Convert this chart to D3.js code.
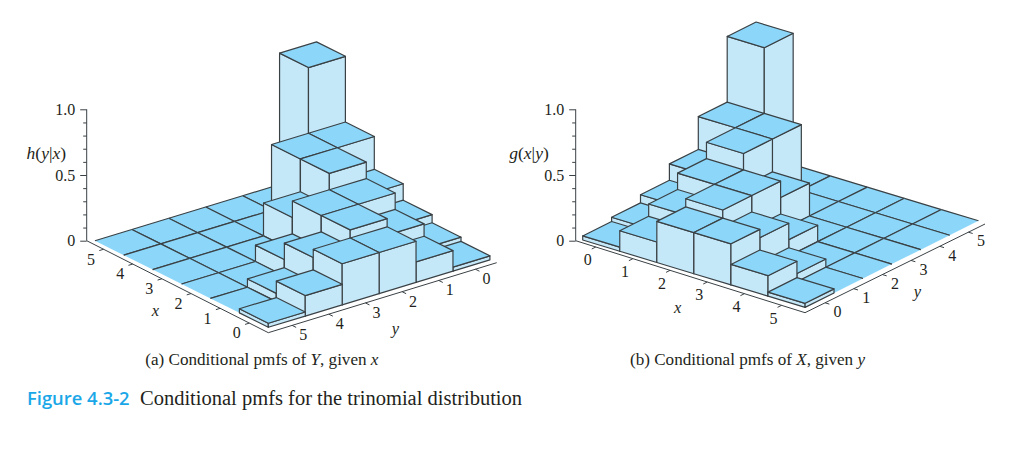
<!DOCTYPE html>
<html>
<head>
<meta charset="utf-8">
<script src="https://d3js.org/d3.v7.min.js"></script>
<style>
  body { margin: 0; background: #fff; }
  text { font-family: "Liberation Serif", serif; fill: #231f20; }
</style>
</head>
<body>
<div id="my_dataviz"></div>
<script>

// categories
var xValues = [0, 1, 2, 3, 4, 5];
var yValues = [0, 1, 2, 3, 4, 5];
var heightTicks = [0, 0.1, 0.2, 0.3, 0.4, 0.5, 0.6, 0.7, 0.8, 0.9, 1.0];
var heightLabels = { 0: "0", 0.5: "0.5", 1: "1.0" };

// conditional pmf values, one list per conditioning value (0..5)
var pmfGiven0 = [0.031, 0.156, 0.313, 0.313, 0.156, 0.031];
var pmfGiven1 = [0.063, 0.25, 0.375, 0.25, 0.063, 0];
var pmfGiven2 = [0.125, 0.375, 0.375, 0.125, 0, 0];
var pmfGiven3 = [0.25, 0.5, 0.25, 0, 0, 0];
var pmfGiven4 = [0.5, 0.5, 0, 0, 0, 0];
var pmfGiven5 = [1, 0, 0, 0, 0, 0];
var pmfRows = [pmfGiven0, pmfGiven1, pmfGiven2, pmfGiven3, pmfGiven4, pmfGiven5];

var topColor = "#8cd7f9", sideColor = "#c5e8f9", edgeColor = "#3a4145";

var svg = d3.select("#my_dataviz")
  .append("svg")
    .attr("width", 1010)
    .attr("height", 450)
    .style("display", "block");

// panel (a): y given x, seen from low x / high y
drawPanel({
  value: function(x, y) { return pmfRows[x][y]; },
  left: 86.7,
  floor: { x0: 268.3, y0: 327.3, xDx: -173.4, xDy: -86.6, yDx: 221.6, yDy: -67.4, xFrom: -0.5, yFrom: 5.5, xTo: 5.5, yTo: -0.5 },
  view: { x: -0.5, y: 0.5 },
  xAxis: { from: [268.3, 332.7], to: [86.7, 240.7], domain: [-0.65, 5.58], tick: [-36.93, 11.23], label: [-12.6, 10] },
  yAxis: { from: [268.3, 332.7], to: [496.7, 262.7], domain: [5.65, -0.58], tick: [28.9, 14.43], label: [11, 9.7] },
  xTitle: [155.3, 312.3],
  yTitle: [395.3, 330],
  zTitle: { x: 46.3, parts: [["h", 1], ["(", 0], ["y", 1], ["|", 0], ["x", 1], [")", 0]] }
});

// panel (b): x given y, seen from high x / low y
drawPanel({
  value: function(x, y) { return pmfRows[y][x]; },
  left: 575.7,
  floor: { x0: 582.7, y0: 240, xDx: 222.4, xDy: 67.4, yDx: 173.4, yDy: -86.6, xFrom: -0.5, yFrom: -0.5, xTo: 5.5, yTo: 5.5 },
  view: { x: 0.5, y: -0.5 },
  xAxis: { from: [575.7, 240.7], to: [805, 312.7], domain: [-0.54, 5.63], tick: [-28.9, 14.43], label: [-8, 13] },
  yAxis: { from: [805, 312.7], to: [985, 224], domain: [-0.7, 5.58], tick: [37.07, 11.23], label: [12.5, 9] },
  xTitle: [677.7, 309],
  yTitle: [917.3, 293.3],
  zTitle: { x: 529, parts: [["g", 1], ["(", 0], ["x", 1], ["|", 0], ["y", 1], [")", 0]] }
});

function drawPanel(cfg) {
  var f = cfg.floor;
  var h = d3.scaleLinear().domain([0, 1]).range([240.7, 109.3]);

  var xToDx = d3.scaleLinear().domain([f.xFrom, f.xTo]).range([0, f.xDx]);
  var xToDy = d3.scaleLinear().domain([f.xFrom, f.xTo]).range([0, f.xDy]);
  var yToDx = d3.scaleLinear().domain([f.yFrom, f.yTo]).range([0, f.yDx]);
  var yToDy = d3.scaleLinear().domain([f.yFrom, f.yTo]).range([0, f.yDy]);

  // outer rims of the floor on the viewer's side
  var rimX = cfg.view.x > 0 ? 5.5 : -0.5;
  var rimY = cfg.view.y > 0 ? 5.5 : -0.5;

  function project(gx, gy, v) {
    return [
      f.x0 + xToDx(gx) + yToDx(gy),
      f.y0 + xToDy(gx) + yToDy(gy) + h(v) - h(0)
    ];
  }

  // height axis
  var zAxis = svg.append("g")
    .attr("transform", "translate(" + cfg.left + ",0)")
    .call(d3.axisLeft(h)
      .tickValues(heightTicks)
      .tickSize(3.5)
      .tickPadding(5)
      .tickFormat(function(d) { return heightLabels[d] || ""; }));
  zAxis.select(".domain").attr("stroke", edgeColor).attr("stroke-width", 1).attr("d", "M0," + h(0) + "V" + h(1));
  zAxis.selectAll(".tick line").attr("stroke", edgeColor)
    .attr("x2", function(d) { return heightLabels[d] ? -6.5 : -3.5; });
  zAxis.selectAll(".tick text")
    .style("font-family", "'Liberation Serif', serif")
    .style("font-size", "16px")
    .attr("x", -11.5)
    .attr("fill", "#231f20");

  // ground axes
  groundAxis(cfg.xAxis, xValues);
  groundAxis(cfg.yAxis, yValues);

  function groundAxis(a, values) {
    var px = d3.scaleLinear().domain(a.domain).range([a.from[0], a.to[0]]);
    var py = d3.scaleLinear().domain(a.domain).range([a.from[1], a.to[1]]);
    var g = svg.append("g");
    g.append("line")
      .attr("x1", a.from[0]).attr("y1", a.from[1])
      .attr("x2", a.to[0]).attr("y2", a.to[1])
      .attr("stroke", edgeColor).attr("stroke-width", 1);
    var len = Math.hypot(a.tick[0], a.tick[1]);
    var tx = a.tick[0] / len * 4.5, ty = a.tick[1] / len * 4.5;
    g.selectAll("line.tick").data(values).enter().append("line")
      .attr("class", "tick")
      .attr("x1", function(d) { return px(d); })
      .attr("y1", function(d) { return py(d); })
      .attr("x2", function(d) { return px(d) + tx; })
      .attr("y2", function(d) { return py(d) + ty; })
      .attr("stroke", edgeColor).attr("stroke-width", 1);
    g.selectAll("text").data(values).enter().append("text")
      .attr("x", function(d) { return px(d) + a.label[0]; })
      .attr("y", function(d) { return py(d) + a.label[1]; })
      .attr("dy", "0.33em")
      .attr("text-anchor", "middle")
      .style("font-size", "16px")
      .text(function(d) { return d; });
  }

  // bars, back to front
  var cells = d3.cross(xValues, yValues, function(x, y) {
    return { x: x, y: y, v: cfg.value(x, y) };
  });
  cells.sort(function(a, b) {
    return (a.x * cfg.view.x + a.y * cfg.view.y) - (b.x * cfg.view.x + b.y * cfg.view.y);
  });
  cells.forEach(function(c) { drawBar(c); });

  function poly(g, pts, fill) {
    g.append("polygon")
      .attr("points", pts.map(function(p) { return p.join(","); }).join(" "))
      .attr("fill", fill)
      .attr("stroke", fill === "none" ? edgeColor : "none")
      .attr("stroke-width", 1.2)
      .attr("stroke-linejoin", "round");
  }

  function drawBar(c) {
    var g = svg.append("g");
    var vx = c.x + cfg.view.x, vy = c.y + cfg.view.y;  // faces turned to the viewer
    var ox = c.x - cfg.view.x, oy = c.y - cfg.view.y;  // faces turned away
    var top = [project(vx, vy, c.v), project(ox, vy, c.v), project(ox, oy, c.v), project(vx, oy, c.v)];
    if (c.v > 0) {
      var faceA = [project(vx, vy, 0), project(ox, vy, 0), project(ox, vy, c.v), project(vx, vy, c.v)];
      var faceB = [project(vx, vy, 0), project(vx, oy, 0), project(vx, oy, c.v), project(vx, vy, c.v)];
      poly(g, faceA, sideColor); poly(g, faceA, "none");
      poly(g, faceB, sideColor); poly(g, faceB, "none");
      poly(g, top, topColor); poly(g, top, "none");
    } else {
      poly(g, top, topColor);
      // empty cells: no line on the two outer rims facing the viewer
      var edges = [
        { on: vy !== rimY, a: top[0], b: top[1] },
        { on: true, a: top[1], b: top[2] },
        { on: true, a: top[2], b: top[3] },
        { on: vx !== rimX, a: top[3], b: top[0] }
      ];
      edges.filter(function(e) { return e.on; }).forEach(function(e) {
        g.append("line")
          .attr("x1", e.a[0]).attr("y1", e.a[1])
          .attr("x2", e.b[0]).attr("y2", e.b[1])
          .attr("stroke", edgeColor).attr("stroke-width", 1.2);
      });
    }
  }

  // axis titles
  axisTitle(cfg.xTitle, "x");
  axisTitle(cfg.yTitle, "y");
  function axisTitle(p, s) {
    svg.append("text")
      .attr("x", p[0]).attr("y", p[1])
      .attr("dy", "0.25em")
      .attr("text-anchor", "middle")
      .style("font-size", "16.5px")
      .style("font-style", "italic")
      .text(s);
  }

  var zt = svg.append("text")
    .attr("x", cfg.zTitle.x).attr("y", h(0.66))
    .attr("dy", "0.3em")
    .attr("text-anchor", "middle")
    .style("font-size", "17.5px");
  zt.selectAll("tspan").data(cfg.zTitle.parts).enter().append("tspan")
    .style("font-style", function(d) { return d[1] ? "italic" : "normal"; })
    .text(function(d) { return d[0]; });
}

// captions
function caption(x, y, parts, size) {
  var t = svg.append("text").attr("x", x).attr("y", y).style("font-size", size + "px");
  t.selectAll("tspan").data(parts).enter().append("tspan")
    .style("font-style", function(d) { return d[1] ? "italic" : "normal"; })
    .text(function(d) { return d[0]; });
  return t;
}
caption(145.3, 365, [["(a) Conditional pmfs of ", 0], ["Y", 1], [", given ", 0], ["x", 1]], 17.1);
caption(630, 365, [["(b) Conditional pmfs of ", 0], ["X", 1], [", given ", 0], ["y", 1]], 17.1);
svg.append("text")
  .attr("x", 27).attr("y", 405)
  .style("font-family", "'Open Sans', sans-serif")
  .style("font-size", "18.4px")
  .style("font-weight", 600)
  .style("fill", "#1aa7e8")
  .text("Figure 4.3-2");
caption(140, 405, [["Conditional pmfs for the trinomial distribution", 0]], 20.5);

</script>
</body>
</html>
